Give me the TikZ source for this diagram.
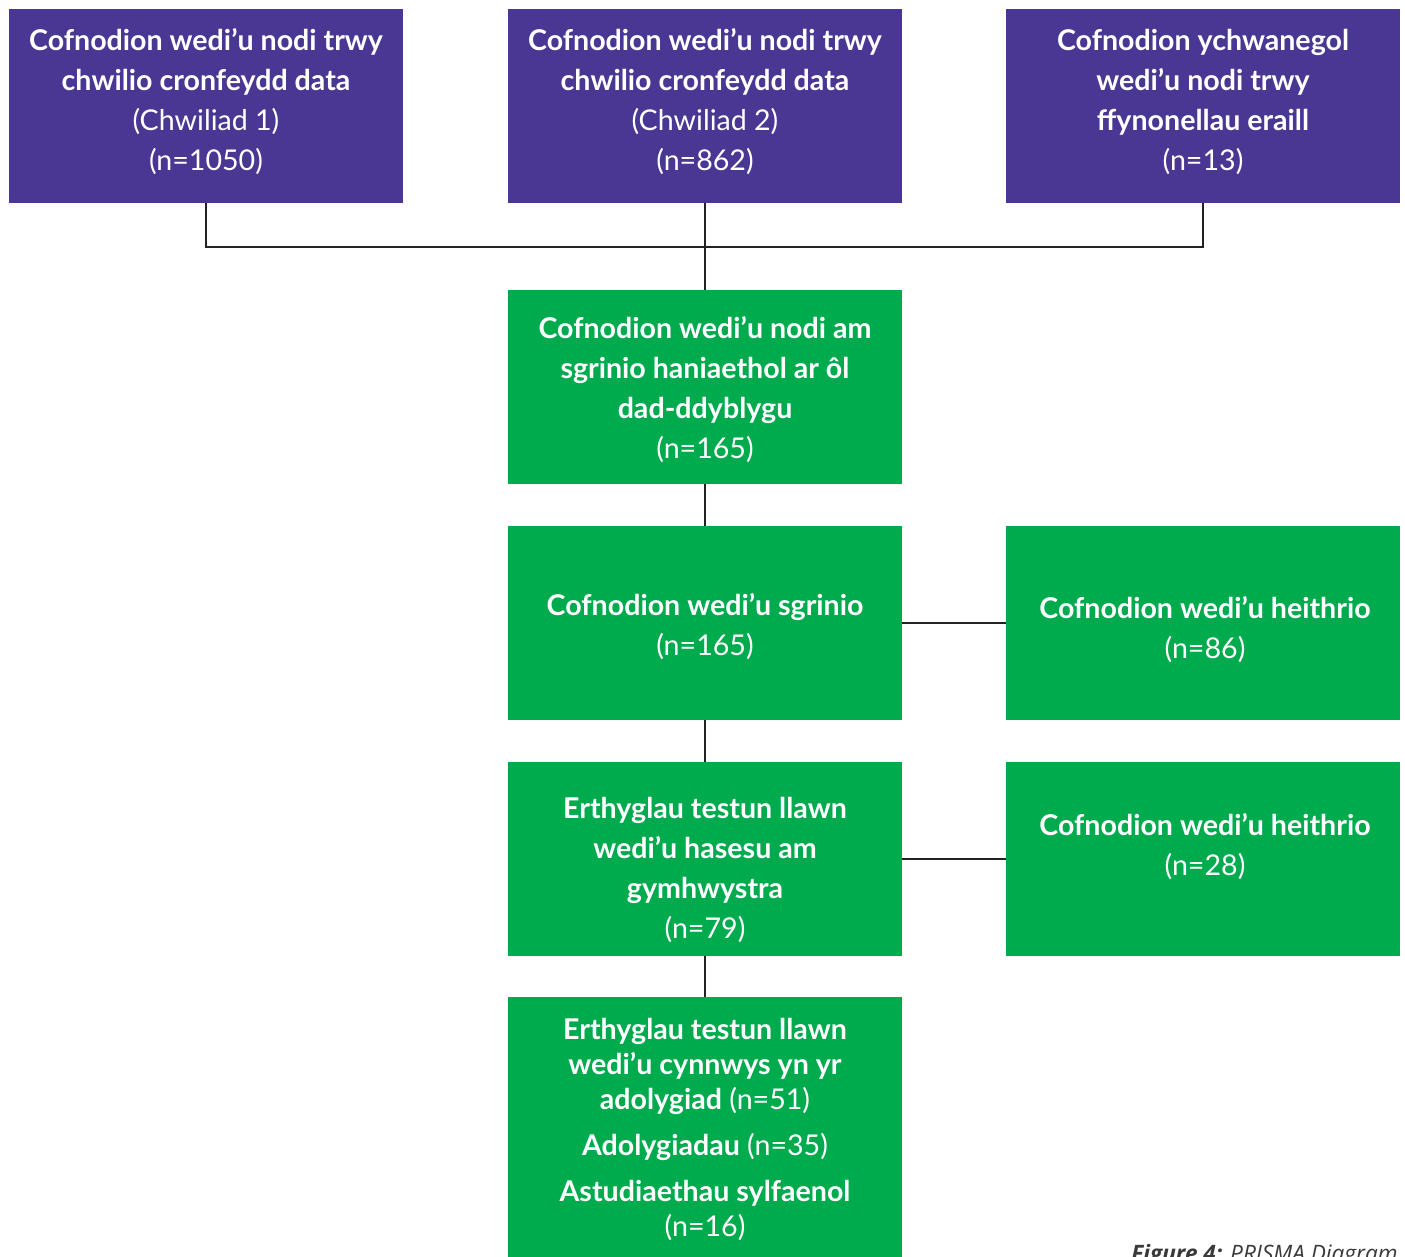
\documentclass[tikz,border=0pt]{standalone}
\usepackage{fontspec}
\setmainfont{Lato}
\newfontfamily\capfont{Open Sans}
\definecolor{boxpurple}{HTML}{4A3793}
\definecolor{boxgreen}{HTML}{00AB4E}
\definecolor{linegray}{HTML}{222222}
\definecolor{capgray}{HTML}{3A3A3A}
\begin{document}
\begin{tikzpicture}[x=0.5pt,y=-0.5pt,
  flowbox/.style={rectangle, inner sep=0pt, minimum width=197pt, minimum height=97pt},
  purplebox/.style={flowbox, fill=boxpurple},
  greenbox/.style={flowbox, fill=boxgreen},
  boxtext/.style={inner sep=0pt, text=white, align=center, font=\fontsize{14.3}{20}\selectfont},
  conn/.style={draw=linegray, line width=1.4pt}]
\useasboundingbox (0,0) rectangle (1405,1257);
\fill[white] (0,0) rectangle (1405,1257);
% boxes
\node[purplebox] (p1) at (206,106) {};
\node[purplebox] (p2) at (705,106) {};
\node[purplebox] (p3) at (1203,106) {};
\node[greenbox] (g1) at (705,387) {};
\node[greenbox] (g2) at (705,623) {};
\node[greenbox] (r2) at (1203,623) {};
\node[greenbox] (g3) at (705,859) {};
\node[greenbox] (r3) at (1203,859) {};
\node[greenbox, minimum height=134pt] (g4) at (705,1131) {};
% texts
\node[boxtext] (t1) at (206,102) {\textbf{Cofnodion wedi’u nodi trwy}\\\textbf{chwilio cronfeydd data}\\(Chwiliad 1)\\(n=1050)};
\node[boxtext] (t2) at (705,102) {\textbf{Cofnodion wedi’u nodi trwy}\\\textbf{chwilio cronfeydd data}\\(Chwiliad 2)\\(n=862)};
\node[boxtext] (t3) at (1203,102) {\textbf{Cofnodion ychwanegol}\\\textbf{wedi’u nodi trwy}\\\textbf{ffynonellau eraill}\\(n=13)};
\node[boxtext] (t4) at (705,389.5) {\textbf{Cofnodion wedi’u nodi am}\\\textbf{sgrinio haniaethol ar ôl}\\\textbf{dad-ddyblygu}\\(n=165)};
\node[boxtext] (t5) at (705,627) {\textbf{Cofnodion wedi’u sgrinio}\\(n=165)};
\node[boxtext] (t6) at (1205,630) {\textbf{Cofnodion wedi’u heithrio}\\(n=86)};
\node[boxtext] (t7) at (705,869.5) {\textbf{Erthyglau testun llawn}\\\textbf{wedi’u hasesu am}\\\textbf{gymhwystra}\\(n=79)};
\node[boxtext] (t8) at (1205,846.5) {\textbf{Cofnodion wedi’u heithrio}\\(n=28)};
\node[boxtext, font=\fontsize{14.3}{17.5}\selectfont] (t9) at (705,1129)
  {\textbf{Erthyglau testun llawn}\\\textbf{wedi’u cynnwys yn yr}\\\textbf{adolygiad} (n=51)\\[5.5pt]\textbf{Adolygiadau} (n=35)\\[5.5pt]\textbf{Astudiaethau sylfaenol}\\(n=16)};
% connectors
\coordinate (j1) at (206,247);
\coordinate (j3) at (1203,247);
\draw[conn] (p1.south) -- (j1) -- (j3) -- (p3.south);
\draw[conn] (p2.south) -- (g1.north);
\draw[conn] (g1.south) -- (g2.north);
\draw[conn] (g2.east) -- (r2.west);
\draw[conn] (g2.south) -- (g3.north);
\draw[conn] (g3.east) -- (r3.west);
\draw[conn] (g3.south) -- (g4.north);
\node[anchor=base east, inner sep=0pt, text=capgray, font=\capfont\fontsize{11.3}{13}\selectfont] (cap) at (1398,1261) {\textbf{\textit{Figure 4:}} \textit{PRISMA Diagram}};
\end{tikzpicture}
\end{document}
